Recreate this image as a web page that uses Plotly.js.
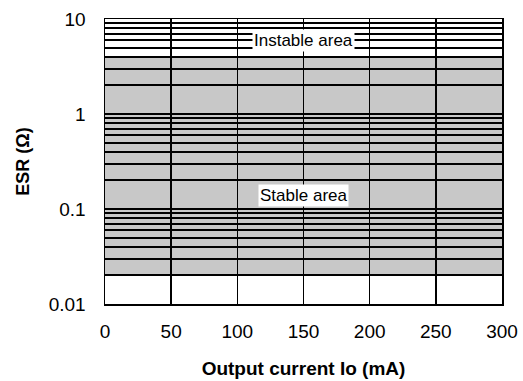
<!DOCTYPE html>
<html>
<head>
<meta charset="utf-8">
<script src="https://cdn.plot.ly/plotly-3.0.1.min.js"></script>
<style>html,body{margin:0;padding:0;background:#fff;}#chart{width:523px;height:381px;}</style>
</head>
<body>
<div id="chart"></div>
<script>
// Data
const xRange = [0, 300];
const xTicks = [0, 50, 100, 150, 200, 250, 300];
const yMajorTicks = [0.01, 0.1, 1, 10];
const yMajorLabels = ["0.01", "0.1", "1", "10"];
const yMinorTicks = [0.02,0.03,0.04,0.05,0.06,0.07,0.08,0.09,0.2,0.3,0.4,0.5,0.6,0.7,0.8,0.9,2,3,4,5,6,7,8,9];
const stableLow = 0.02;   // lower ESR limit of stable area
const stableHigh = 4;     // upper ESR limit of stable area
const labelNames = ["Instable area", "Stable area"];
const labelX = [150, 150];
const labelY = [6.0, 0.14];

const font = "Liberation Sans, Arial, Helvetica, sans-serif";

const traces = [{
  x: xRange, y: [stableLow, stableLow], mode: 'lines', line: {width: 0}, hoverinfo: 'skip', showlegend: false
}];

const layout = {
  width: 523, height: 381,
  margin: {l: 105, r: 21, t: 19, b: 77},
  paper_bgcolor: '#fff', plot_bgcolor: '#fff',
  showlegend: false,
  font: {family: font, size: 19, color: '#000'},
  xaxis: {
    range: xRange, tickvals: xTicks, ticks: '', ticklabelstandoff: 10,
    showgrid: true, gridcolor: '#000', gridwidth: 1.5,
    showline: true, linecolor: '#000', linewidth: 1.5, mirror: true,
    zeroline: false,
    tickfont: {size: 19},
    title: {text: '<b>Output current Io (mA)</b>', font: {size: 19}, standoff: 20}
  },
  yaxis: {
    type: 'log', range: [Math.log10(0.01), Math.log10(10)],
    tickvals: yMajorTicks, ticktext: yMajorLabels, ticks: '', ticklabelstandoff: 14,
    showgrid: true, gridcolor: '#000', gridwidth: 2,
    minor: {tickvals: yMinorTicks, showgrid: true, gridcolor: '#000', gridwidth: 2, ticks: ''},
    showline: true, linecolor: '#000', linewidth: 1.5, mirror: true,
    zeroline: false,
    tickfont: {size: 19},
    title: {text: '<b>ESR (Ω)</b>', font: {size: 18}, standoff: 14}
  },
  shapes: [{
    type: 'rect', xref: 'x', yref: 'y', layer: 'below',
    x0: xRange[0], x1: xRange[1], y0: stableLow, y1: stableHigh,
    fillcolor: '#c8c8c8', line: {width: 0}
  }],
  annotations: labelNames.map((t, i) => ({
    text: t, x: labelX[i], y: Math.log10(labelY[i]), xref: 'x', yref: 'y',
    showarrow: false, bgcolor: '#fff', font: {size: 17, color: '#000'}, borderpad: 1
  }))
};

Plotly.newPlot('chart', traces, layout, {staticPlot: true, displayModeBar: false});
</script>
</body>
</html>
